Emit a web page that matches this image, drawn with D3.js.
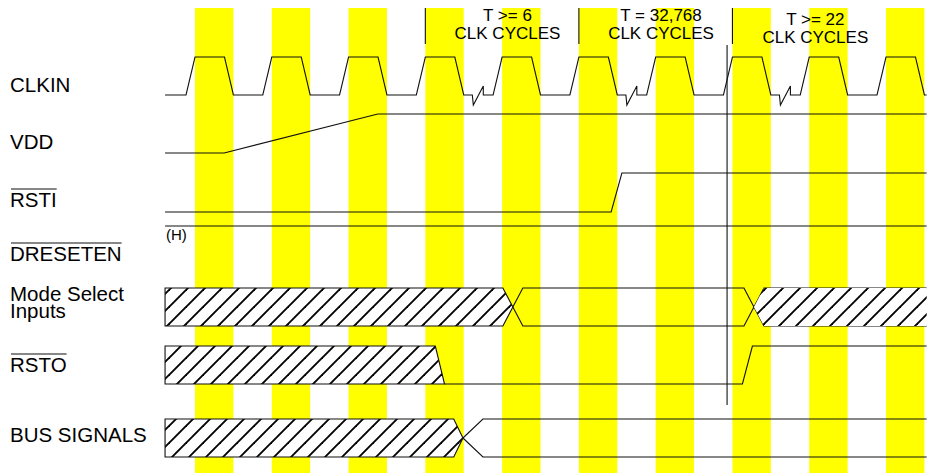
<!DOCTYPE html>
<html><head><meta charset="utf-8">
<script src="https://cdn.jsdelivr.net/npm/d3@7"></script>
<style>
body{margin:0;background:#fff}
svg{display:block}
text{font-family:"Liberation Sans",Arial,Helvetica,sans-serif;fill:#000}
</style>
</head><body>
<svg id="chart" width="927" height="473"></svg>
<script>
// ---------- data (time in clock periods) ----------
const signalLabels = [["CLKIN"],["VDD"],["RSTI"],["DRESETEN"],["Mode Select","Inputs"],["RSTO"],["BUS SIGNALS"]];
const overlinedSignals = ["RSTI","DRESETEN","RSTO"];
const clockCycles = [0,1,2,3,4,5,6,7,8,9];
const clockBreaks = [3,5,7];
const timeStart = -0.39, timeEnd = 9.53;
const vddWave = [[timeStart,0],[0.38,0],[2.38,1],[timeEnd,1]];
const rstiWave = [[timeStart,0],[5.42,0],[5.56,1],[timeEnd,1]];
const dresetenWave = [[timeStart,1],[timeEnd,1]];
const dresetenNote = "(H)";
const modeTransitions = [[4.01,4.14,4.27],[7.15,7.28,7.41]]; // start, cross, end
const rstoEdges = [[3.13,3.25],[7.13,7.26]];                  // hatched->low, low->high
const busTransition = [3.37,3.49,3.75];
const markerTimes = [3,5,7];
const referenceTime = 6.93;
const annotationTop = ["T >= 6","T = 32,768","T >= 22"];
const annotationBottom = ["CLK CYCLES","CLK CYCLES","CLK CYCLES"];
const annotationTimes = [4.07,6.07,8.08];

// ---------- layout ----------
const svg = d3.select("#chart");
const W = 927, H = 473;
const x = d3.scaleLinear().domain([0,9]).range([195,886]);
const rowHigh = [57,114,173,226,288,346,419];
const rowLow  = [95,153,212,265,326,384,457];
const labelBase = [[92],[149],[207],[261],[301,318],[372],[442]];
const level = (row) => d3.scaleLinear().domain([0,1]).range([rowLow[row],rowHigh[row]]);
const stroke = "#111";

// hatch pattern: "/" diagonals, 17px apart horizontally
const defs = svg.append("defs");
const P = 17;
const pat = defs.append("pattern").attr("id","hatch").attr("patternUnits","userSpaceOnUse")
  .attr("width",P).attr("height",P);
pat.append("rect").attr("width",P).attr("height",P).attr("fill","#fff");
[[0,P,P,0],[-P/2,P/2,P/2,-P/2],[P/2,P*1.5,P*1.5,P/2]].forEach(([a,b,c,d])=>{
  pat.append("line").attr("x1",a).attr("y1",b).attr("x2",c).attr("y2",d)
    .attr("stroke","#000").attr("stroke-width",1.9);
});

// yellow bands
svg.append("g").selectAll("rect").data(clockCycles).join("rect")
  .attr("x",d=>x(d)).attr("width",d=>x(d+0.5)-x(d))
  .attr("y",8).attr("height",H-8).attr("fill","#ffff00");

const line = d3.line();
const g = svg.append("g").attr("fill","none").attr("stroke",stroke).attr("stroke-width",1.1);

// clock
{
  const y = level(0);
  const pts = [[x(timeStart),y(0)]];
  clockCycles.forEach(k=>{
    pts.push([x(k-0.117),y(0)],[x(k),y(1)],[x(k+0.384),y(1)],[x(k+0.5),y(0)]);
    if (clockBreaks.includes(k)) {
      pts.push([x(k+0.612),y(0)],[x(k+0.625),y(0)+10],[x(k+0.755),y(0)-9],[x(k+0.755),y(0)]);
    }
  });
  pts.push([x(timeEnd),y(0)]);
  g.append("path").attr("d",line(pts));
}
// simple level waveforms
[[1,vddWave],[2,rstiWave],[3,dresetenWave]].forEach(([row,wave])=>{
  const y = level(row);
  g.append("path").attr("d",line(wave.map(([t,v])=>[x(t),y(v)])));
});

// Mode Select Inputs
{
  const r=4, top=rowHigh[r], bot=rowLow[r], mid=(top+bot)/2;
  const [a,b]=modeTransitions;
  svg.append("path").attr("fill","url(#hatch)").attr("stroke",stroke).attr("stroke-width",1.1)
    .attr("d",line([[x(timeStart),top],[x(a[0]),top],[x(a[1]),mid],[x(a[0]),bot],[x(timeStart),bot]])+"Z");
  svg.append("path").attr("fill","url(#hatch)").attr("stroke","none")
    .attr("d",line([[x(b[1]),mid],[x(b[2]),top],[x(timeEnd),top],[x(timeEnd),bot],[x(b[2]),bot]])+"Z");
  g.append("path").attr("d",line([[x(b[1]),mid],[x(b[2]),top],[x(timeEnd),top]]));
  g.append("path").attr("d",line([[x(b[1]),mid],[x(b[2]),bot],[x(timeEnd),bot]]));
  g.append("path").attr("d",line([[x(a[1]),mid],[x(a[2]),top],[x(b[0]),top],[x(b[1]),mid],[x(b[0]),bot],[x(a[2]),bot],[x(a[1]),mid]]));
}
// RSTO
{
  const r=5, top=rowHigh[r], bot=rowLow[r];
  const [e1,e2]=rstoEdges;
  svg.append("path").attr("fill","url(#hatch)").attr("stroke",stroke).attr("stroke-width",1.1)
    .attr("d",line([[x(timeStart),top],[x(e1[0]),top],[x(e1[1]),bot],[x(timeStart),bot]])+"Z");
  g.append("path").attr("d",line([[x(e1[1]),bot],[x(e2[0]),bot],[x(e2[1]),top],[x(timeEnd),top]]));
}
// BUS SIGNALS
{
  const r=6, top=rowHigh[r], bot=rowLow[r], mid=(top+bot)/2;
  const [s,c,e]=busTransition;
  svg.append("path").attr("fill","url(#hatch)").attr("stroke",stroke).attr("stroke-width",1.1)
    .attr("d",line([[x(timeStart),top],[x(s),top],[x(c),mid],[x(s),bot],[x(timeStart),bot]])+"Z");
  g.append("path").attr("d",line([[x(c),mid],[x(e),top],[x(timeEnd),top]]));
  g.append("path").attr("d",line([[x(c),mid],[x(e),bot],[x(timeEnd),bot]]));
}

// markers
g.selectAll("line.m").data(markerTimes).join("line").attr("class","m")
  .attr("x1",d=>x(d)).attr("x2",d=>x(d)).attr("y1",8).attr("y2",44);
g.append("line").attr("x1",x(referenceTime)).attr("x2",x(referenceTime)).attr("y1",45).attr("y2",405);

// annotations
const annoDy=[0,0,4];
const ag = svg.append("g").attr("text-anchor","middle").style("font-size","17px");
annotationTimes.forEach((t,i)=>{
  ag.append("text").attr("x",x(t)).attr("y",21+annoDy[i]).text(annotationTop[i]);
  ag.append("text").attr("x",x(t)).attr("y",39+annoDy[i]).text(annotationBottom[i]);
});

// (H)
svg.append("text").attr("x",x(timeStart)+1).attr("y",240).style("font-size","15px").text(dresetenNote);

// labels
const lg = svg.append("g").style("font-size","20.5px");
signalLabels.forEach((lines,i)=>{
  lines.forEach((s,j)=>{
    const t = lg.append("text").attr("x",10).attr("y",labelBase[i][j]).text(s);
    if (overlinedSignals.includes(s)) {
      const len = t.node().getComputedTextLength();
      lg.append("line").attr("x1",11).attr("x2",10+len).attr("y1",labelBase[i][j]-18).attr("y2",labelBase[i][j]-18)
        .attr("stroke",stroke).attr("stroke-width",1.2);
    }
  });
});
</script>
</body></html>
